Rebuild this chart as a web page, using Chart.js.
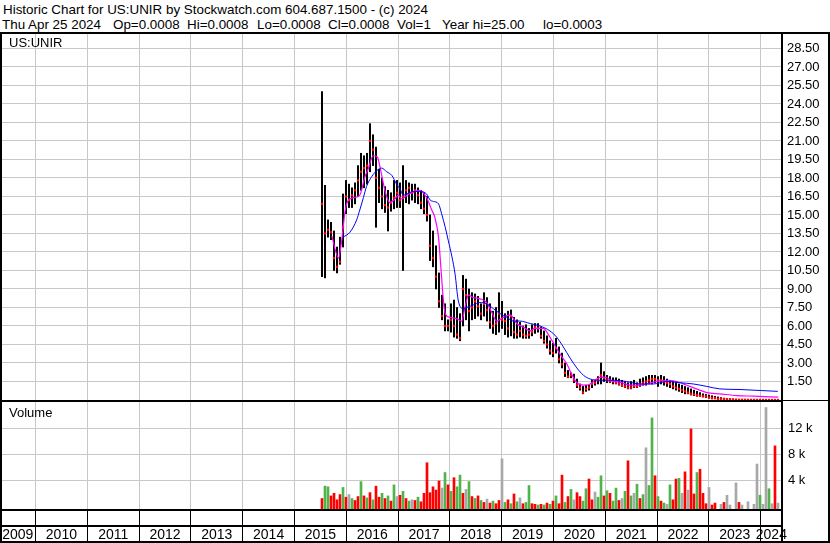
<!DOCTYPE html>
<html>
<head>
<meta charset="utf-8">
<script src="https://cdn.jsdelivr.net/npm/chart.js@4.4.1/dist/chart.umd.min.js"></script>
<style>
  body { margin: 0; background: #fff; }
  #wrap { position: relative; width: 830px; height: 543px; overflow: hidden; font-family: "Liberation Sans", Arial, sans-serif; color: #000; }
  canvas { position: absolute; left: 0; }
  .txt { position: absolute; white-space: pre; font-size: 13.4px; line-height: 15px; }
  .lbl { position: absolute; white-space: pre; font-size: 13px; line-height: 14px; }
  .ln { position: absolute; background: #000; }
</style>
</head>
<body>
<div id="wrap">
  <canvas id="priceChart" width="830" height="367" style="top:33px"></canvas>
  <canvas id="volChart" width="830" height="141" style="top:402px"></canvas>

  <div class="txt" style="left:3px;top:2px">Historic Chart for US:UNIR by Stockwatch.com 604.687.1500 - (c) 2024</div>
  <div class="txt" style="left:2px;top:17px">Thu Apr 25 2024</div>
  <div class="txt" style="left:113px;top:17px">Op=0.0008</div>
  <div class="txt" style="left:187px;top:17px">Hi=0.0008</div>
  <div class="txt" style="left:257px;top:17px">Lo=0.0008</div>
  <div class="txt" style="left:328px;top:17px">Cl=0.0008</div>
  <div class="txt" style="left:397px;top:17px">Vol=1</div>
  <div class="txt" style="left:442px;top:17px">Year hi=25.00</div>
  <div class="txt" style="left:543px;top:17px">lo=0.0003</div>

  <div class="lbl" style="left:9px;top:36px">US:UNIR</div>
  <div class="lbl" style="left:9px;top:406px">Volume</div>

  <div class="ln" style="left:0;top:32px;width:830px;height:2px"></div>
  <div class="ln" style="left:0;top:32px;width:2px;height:511px"></div>
  <div class="ln" style="left:828px;top:32px;width:2px;height:511px"></div>
  <div class="ln" style="left:781px;top:32px;width:2px;height:511px"></div>
  <div class="ln" style="left:0;top:400px;width:783px;height:2px"></div>
  <div class="ln" style="left:783px;top:400px;width:47px;height:1px"></div>
  <div class="ln" style="left:0;top:509px;width:783px;height:2px"></div>
  <div class="ln" style="left:0;top:525px;width:783px;height:2px"></div>
  <div class="ln" style="left:0;top:541px;width:830px;height:2px"></div>
</div>

<script>
// time axis (decimal years), bars every ~3 weeks from mid 2015
const X_MIN = 2009.3147, X_MAX = 2024.4112;
const barStart = 2015.5309, barStep = 0.057915;

const yearBounds = [2010, 2011, 2012, 2013, 2014, 2015, 2016, 2017, 2018, 2019, 2020, 2021, 2022, 2023, 2024];
const yearLabels = ['2009', '2010', '2011', '2012', '2013', '2014', '2015', '2016', '2017', '2018', '2019', '2020', '2021', '2022', '2023', '2024'];
const priceTicks = [1.5, 3, 4.5, 6, 7.5, 9, 10.5, 12, 13.5, 15, 16.5, 18, 19.5, 21, 22.5, 24, 25.5, 27, 28.5];
const volTicks = [4, 8, 12];

// price bars
const lows = [
  10.0, 9.9, 13.2, 13.0, 10.5, 10.3, 11.0, 12.4, 15.1, 15.6,
  15.6, 15.9, 16.5, 17.0, 17.2, 17.5, 18.5, 19.0, 14.0, 16.0,
  15.5, 15.2, 13.7, 15.3, 15.5, 15.6, 15.6, 10.5, 16.0, 15.9,
  16.2, 16.0, 15.9, 15.5, 15.1, 14.5, 11.3, 10.8, 9.0, 7.5,
  6.5, 5.6, 5.6, 5.5, 5.1, 5.0, 4.8, 6.0, 6.5, 5.6,
  6.5, 6.6, 6.8, 6.5, 6.8, 6.4, 5.8, 5.4, 5.3, 5.5,
  5.8, 5.3, 5.1, 5.2, 5.0, 5.0, 5.1, 5.0, 5.0, 5.0,
  5.2, 5.4, 5.5, 5.0, 4.6, 4.2, 3.7, 3.5, 3.8, 3.0,
  2.6, 1.9, 1.8, 1.8, 1.4, 1.0, 0.8, 0.5, 0.7, 0.8,
  1.0, 1.2, 1.3, 1.3, 1.5, 1.4, 1.4, 1.3, 1.3, 1.2,
  1.1, 1.0, 0.9, 0.9, 1.0, 1.0, 1.1, 1.2, 1.2, 1.3,
  1.3, 1.4, 1.1, 1.3, 1.2, 1.1, 1.0, 0.9, 0.8, 0.7,
  0.6, 0.5, 0.5, 0.4, 0.35, 0.3, 0.3, 0.25, 0.2, 0.15,
  0.1, 0.1, 0.08, 0.05, 0.05, 0.04, 0.03, 0.02, 0.01, 0.01,
  0.01, 0.005, 0.005, 0.005, 0.003, 0.003, 0.003, 0.002, 0.002, 0.001,
  0.001, 0.0008, 0.0003
];
const highs = [
  25.0, 17.4, 14.6, 14.4, 13.7, 12.4, 13.2, 16.7, 17.8, 17.5,
  17.2, 17.6, 19.0, 20.0, 19.8, 20.0, 22.4, 21.5, 20.5, 18.7,
  18.0, 17.3, 17.0, 16.8, 17.8, 17.8, 17.6, 19.0, 17.8, 17.6,
  17.5, 17.5, 17.2, 17.0, 16.8, 16.5, 15.0, 13.7, 12.5, 10.3,
  8.5, 7.8, 6.5, 7.8, 8.1, 7.5, 7.0, 10.1, 9.8, 9.0,
  8.7, 8.6, 8.4, 7.8, 8.7, 8.3, 7.8, 7.2, 7.5, 8.7,
  8.0, 7.0, 7.2, 7.3, 6.7, 6.5, 6.3, 6.0, 6.1, 5.8,
  6.1, 6.2, 6.2, 5.9, 5.6, 5.2, 4.8, 4.6, 5.0, 4.3,
  3.8, 3.0, 2.4, 2.2, 2.1, 1.7, 1.3, 1.1, 1.2, 1.2,
  1.6, 1.6, 1.9, 3.0, 2.3, 2.0, 1.9, 1.8, 1.8, 1.7,
  1.6, 1.5, 1.4, 1.5, 1.6, 1.4, 1.7, 1.8, 1.9, 2.0,
  2.0, 2.0, 1.9, 2.0, 1.9, 1.7, 1.6, 1.5, 1.5, 1.3,
  1.2, 1.1, 1.0, 0.9, 0.8, 0.7, 0.6, 0.5, 0.45, 0.4,
  0.35, 0.3, 0.25, 0.2, 0.15, 0.12, 0.1, 0.08, 0.06, 0.05,
  0.05, 0.04, 0.04, 0.03, 0.03, 0.03, 0.02, 0.02, 0.02, 0.01,
  0.01, 0.005, 0.003
];
const closes = [
  15.9, 13.5, 13.8, 13.6, 11.5, 10.8, 11.2, 14.0, 16.5, 16.2,
  16.6, 17.0, 17.8, 18.5, 18.8, 19.0, 21.0, 20.3, 18.0, 17.2,
  16.5, 15.8, 15.6, 16.0, 16.4, 16.8, 16.2, 16.5, 17.0, 17.2,
  16.8, 17.0, 16.6, 16.0, 15.5, 15.0, 12.5, 11.5, 10.0, 8.0,
  6.8, 6.0, 6.0, 6.5, 6.0, 5.3, 5.0, 9.0, 8.5, 7.2,
  7.5, 8.0, 7.6, 7.0, 7.8, 7.3, 6.3, 6.0, 6.2, 7.0,
  6.5, 6.4, 5.8, 6.8, 5.5, 5.3, 5.6, 5.3, 5.2, 5.3,
  5.5, 5.9, 5.8, 5.2, 4.8, 4.5, 4.0, 3.8, 4.2, 3.3,
  2.9, 2.2, 1.9, 2.0, 1.6, 1.2, 1.0, 0.6, 0.9, 1.0,
  1.3, 1.4, 1.6, 2.0, 1.8, 1.6, 1.5, 1.5, 1.4, 1.3,
  1.2, 1.1, 1.0, 1.0, 1.1, 1.1, 1.3, 1.4, 1.5, 1.6,
  1.7, 1.7, 1.6, 1.6, 1.5, 1.4, 1.3, 1.1, 1.0, 0.9,
  0.8, 0.7, 0.6, 0.5, 0.45, 0.4, 0.35, 0.3, 0.3, 0.2,
  0.15, 0.15, 0.1, 0.1, 0.08, 0.06, 0.05, 0.04, 0.03, 0.02,
  0.02, 0.02, 0.01, 0.01, 0.01, 0.01, 0.008, 0.005, 0.004, 0.003,
  0.002, 0.001, 0.0008
];

// volume in thousands, u = up (green), d = down (red), n = unchanged (grey)
const vols = [
  1.2, 3.1, 3.0, 1.6, 2.0, 1.0, 1.8, 2.9, 1.4, 1.8,
  1.2, 0.9, 1.5, 3.8, 1.6, 1.3, 2.1, 1.0, 3.1, 1.4,
  2.0, 1.2, 1.6, 0.8, 3.3, 1.5, 1.7, 2.3, 1.2, 0.8,
  1.0, 0.9, 1.4, 0.7, 2.0, 6.7, 2.1, 3.0, 2.5, 3.9,
  2.8, 5.2, 3.3, 2.3, 4.4, 3.0, 4.8, 2.0, 2.6, 3.8,
  1.5, 1.2, 1.6, 0.9, 0.6, 1.1, 0.5, 0.8, 0.4, 0.9,
  7.3, 0.6, 1.0, 0.4, 1.9, 0.7, 1.3, 0.4, 0.6, 3.2,
  0.4, 0.3, 0.2, 0.3, 0.2, 0.5, 0.3, 0.8, 1.6, 0.4,
  4.8, 0.6, 1.5, 2.6, 1.0, 2.1, 1.5, 0.8, 2.7, 4.2,
  1.0, 2.2, 1.4, 4.7, 1.6, 2.4, 2.0, 0.8, 2.8, 0.9,
  1.2, 2.3, 7.0, 1.6, 2.0, 3.4, 1.2, 1.8, 9.0, 3.2,
  13.6, 4.7, 1.5, 0.8, 0.5, 0.3, 3.3, 1.0, 4.2, 4.3,
  2.0, 5.3, 2.5, 11.9, 1.9, 5.2, 5.7, 2.0, 0.4, 2.9,
  0.2, 0.5, 0, 0.3, 0.6, 1.7, 0.2, 0, 3.6, 0.6,
  0.2, 0, 0.7, 0, 0.3, 6.5, 1.7, 0.3, 15.2, 2.7,
  0.4, 9.3, 0.5
];
const volDir = [
  'd','u','u','d','d','d','d','u','d','n',
  'u','d','d','u','d','u','d','u','d','d',
  'u','d','u','d','u','n','d','u','d','u',
  'n','d','u','d','d','d','d','d','d','d',
  'n','u','d','u','d','u','u','d','n','u',
  'd','u','d','u','d','n','d','u','d','d',
  'n','u','d','u','d','u','n','d','u','u',
  'd','d','u','d','u','d','u','d','u','d',
  'd','u','d','u','n','d','d','u','u','d',
  'd','n','u','u','d','u','d','u','u','d',
  'n','u','d','u','n','u','d','u','n','u',
  'u','d','u','d','u','n','u','d','d','u',
  'n','d','n','d','d','u','d','d','d','n',
  'd','d','n','n','d','n','n','n','n','d',
  'n','n','n','n','n','n','u','n','n','u',
  'n','d','n'
];

// moving averages: [year, price]
const shortMa = [
  [2015.72, 13.3], [2015.85, 11.5], [2015.91, 12.9], [2015.98, 15.4], [2016.04, 16.2],
  [2016.14, 16.4], [2016.26, 16.6], [2016.36, 18.1], [2016.42, 18.7], [2016.52, 19.8],
  [2016.60, 19.7], [2016.65, 18.9], [2016.75, 16.9], [2016.84, 16.0], [2016.94, 16.3],
  [2017.00, 16.6], [2017.07, 16.3], [2017.17, 16.6], [2017.26, 16.8], [2017.42, 17.0],
  [2017.55, 16.4], [2017.65, 15.4], [2017.71, 14.8], [2017.78, 13.2], [2017.83, 10.5],
  [2017.87, 8.3], [2017.91, 7.0], [2018.00, 6.7], [2018.13, 6.6], [2018.23, 6.4],
  [2018.29, 7.5], [2018.36, 8.5], [2018.45, 8.3], [2018.58, 8.2], [2018.71, 7.9],
  [2018.81, 7.1], [2018.90, 6.4], [2019.03, 6.7], [2019.16, 6.9], [2019.29, 6.2],
  [2019.42, 5.9], [2019.55, 5.6], [2019.64, 5.8], [2019.80, 5.8], [2019.93, 5.1],
  [2020.03, 4.4], [2020.13, 3.7], [2020.26, 2.9], [2020.35, 2.1], [2020.45, 1.4],
  [2020.58, 1.2], [2020.71, 1.3], [2020.83, 1.7], [2020.93, 1.85], [2021.03, 1.8],
  [2021.15, 1.5], [2021.28, 1.45], [2021.48, 1.2], [2021.67, 1.2], [2021.93, 1.45],
  [2022.19, 1.6], [2022.38, 1.5], [2022.57, 1.2], [2022.76, 0.9], [2022.96, 0.6],
  [2023.21, 0.5], [2023.54, 0.36], [2023.86, 0.31], [2024.34, 0.23]
];
const longMa = [
  [2015.94, 13.2], [2016.07, 13.6], [2016.20, 14.6], [2016.26, 15.4], [2016.33, 16.4],
  [2016.39, 17.3], [2016.49, 18.1], [2016.59, 18.6], [2016.68, 18.8], [2016.78, 18.5],
  [2016.88, 18.2], [2016.97, 17.5], [2017.04, 17.1], [2017.10, 16.6], [2017.17, 16.7],
  [2017.29, 16.9], [2017.42, 16.9], [2017.55, 16.7], [2017.62, 16.2], [2017.68, 16.1],
  [2017.78, 15.9], [2017.84, 15.1], [2017.91, 14.0], [2017.97, 12.9], [2018.04, 11.6],
  [2018.10, 10.2], [2018.16, 8.1], [2018.26, 7.4], [2018.32, 7.5], [2018.45, 7.7],
  [2018.58, 7.9], [2018.71, 7.8], [2018.84, 7.4], [2018.97, 7.0], [2019.10, 6.7],
  [2019.22, 6.4], [2019.35, 6.4], [2019.55, 6.2], [2019.74, 6.0], [2019.93, 5.6],
  [2020.06, 5.1], [2020.19, 4.3], [2020.32, 3.4], [2020.45, 2.6], [2020.58, 2.0],
  [2020.71, 1.7], [2020.90, 1.6], [2021.15, 1.6], [2021.41, 1.5], [2021.67, 1.3],
  [2021.93, 1.3], [2022.19, 1.5], [2022.44, 1.4], [2022.70, 1.3], [2022.96, 1.1],
  [2023.21, 0.9], [2023.60, 0.85], [2023.99, 0.77], [2024.33, 0.7]
];

const VOL_MIN = -0.415;
const volColor = { u: '#50b44b', d: '#ff0000', n: '#a8a8a8' };
const GRID = '#c8c8c8';
const FONT = { family: '"Liberation Sans", Arial, sans-serif', size: 13 };

function barX(i) {
  return barStart + i * barStep;
}

// no extra room for labels: the plot must fill the panel
function noPad(s) {
  s.paddingTop = 0;
  s.paddingBottom = 0;
  s.paddingLeft = 0;
  s.paddingRight = 0;
}

// bottom axis: year boundaries carry the grid lines, the visible middle of each year carries the label
const xTickVals = [];
const xTickText = [];
yearLabels.forEach(function (lab) {
  const y = Number(lab);
  const lo = Math.max(y, X_MIN), hi = Math.min(y + 1, X_MAX);
  if (y >= 2010) { xTickVals.push(y); xTickText.push(''); }
  xTickVals.push((lo + hi) / 2);
  xTickText.push(lab);
});

const common = {
  responsive: false,
  animation: false,
  devicePixelRatio: 1,
  layout: { padding: 0, autoPadding: false },
  plugins: { legend: { display: false }, tooltip: { enabled: false } }
};

new Chart(document.getElementById('priceChart'), {
  type: 'bar',
  data: {
    datasets: [
      {
        type: 'line',
        data: longMa.map(p => ({ x: p[0], y: p[1] })),
        borderColor: '#0000ff', borderWidth: 1, pointRadius: 0,
        cubicInterpolationMode: 'monotone', order: 1
      },
      {
        type: 'line',
        data: shortMa.map(p => ({ x: p[0], y: p[1] })),
        borderColor: '#ff00ff', borderWidth: 1.2, pointRadius: 0,
        cubicInterpolationMode: 'monotone', order: 2
      },
      {
        type: 'scatter',
        data: closes.map((c, i) => ({ x: barX(i), y: c })),
        pointStyle: 'rect', pointRadius: 1.6, backgroundColor: '#ff0000',
        borderWidth: 0, order: 3
      },
      {
        type: 'bar',
        data: lows.map((l, i) => ({ x: barX(i), y: [l, highs[i]] })),
        backgroundColor: '#000', borderWidth: 0, barThickness: 1.4, order: 4
      }
    ]
  },
  options: Object.assign({}, common, {
    scales: {
      x: {
        type: 'linear', min: X_MIN, max: X_MAX, offset: false,
        grid: { color: GRID, drawTicks: false, offset: false },
        border: { display: false },
        ticks: { display: false },
        afterBuildTicks: s => { s.ticks = yearBounds.map(v => ({ value: v })); },
        afterFit: s => { s.height = 0; noPad(s); }
      },
      y: {
        position: 'right', min: 0, max: 29.75,
        grid: { color: GRID, drawTicks: false },
        border: { display: false },
        ticks: { padding: 5, color: '#000', font: FONT, callback: v => v.toFixed(2) },
        afterBuildTicks: s => { s.ticks = priceTicks.map(v => ({ value: v })); },
        afterFit: s => { s.width = 48; noPad(s); }
      }
    }
  })
});

new Chart(document.getElementById('volChart'), {
  type: 'bar',
  data: {
    datasets: [{
      data: vols.map((v, i) => ({ x: barX(i), y: v > 0 ? [VOL_MIN, v] : null })),
      backgroundColor: volDir.map(d => volColor[d]),
      borderWidth: 0, barThickness: 2
    }]
  },
  options: Object.assign({}, common, {
    scales: {
      x: {
        type: 'linear', min: X_MIN, max: X_MAX, offset: false,
        grid: {
          offset: false, tickLength: 33,
          color: c => Number.isInteger(c.tick && c.tick.value) ? GRID : 'rgba(0,0,0,0)',
          tickColor: c => Number.isInteger(c.tick && c.tick.value) ? '#000' : 'rgba(0,0,0,0)'
        },
        border: { display: false },
        ticks: {
          autoSkip: false, maxRotation: 0, padding: -15, color: '#000',
          font: { family: FONT.family, size: 14 },
          callback: (v, i) => xTickText[i]
        },
        afterBuildTicks: s => { s.ticks = xTickVals.map(v => ({ value: v })); },
        afterFit: s => { s.height = 34; noPad(s); }
      },
      y: {
        position: 'right', min: VOL_MIN, max: 16.05,
        grid: { color: GRID, drawTicks: false },
        border: { display: false },
        ticks: { padding: 6, color: '#000', font: FONT, callback: v => v + ' k' },
        afterBuildTicks: s => { s.ticks = volTicks.map(v => ({ value: v })); },
        afterFit: s => { s.width = 48; noPad(s); }
      }
    }
  })
});
</script>
</body>
</html>
